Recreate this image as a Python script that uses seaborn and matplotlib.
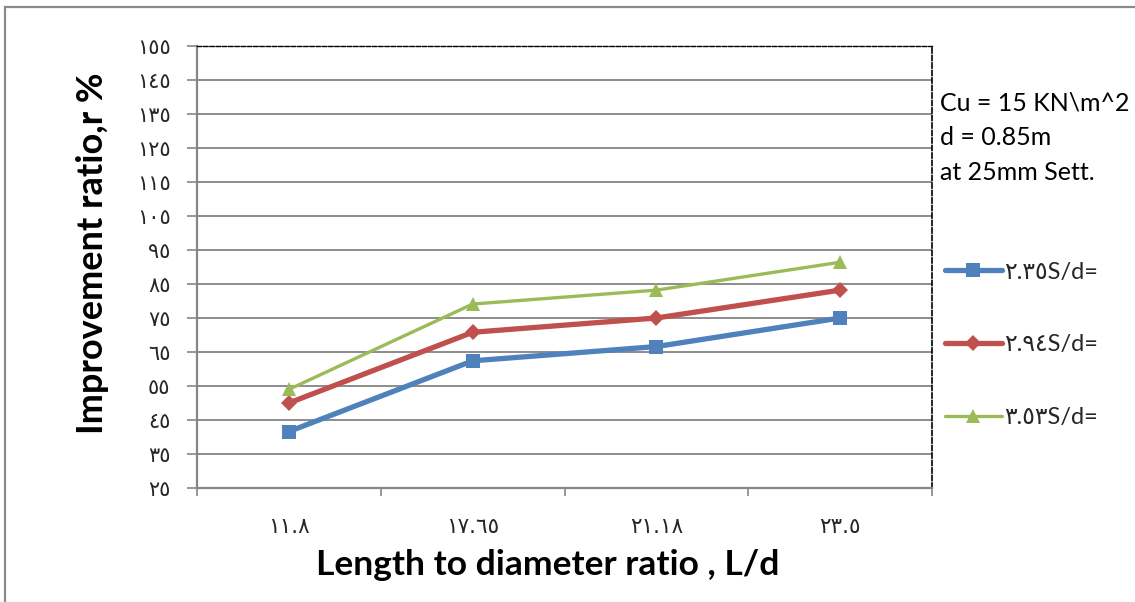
import matplotlib
matplotlib.use("Agg")
import matplotlib.pyplot as plt
import seaborn as sns
import pandas as pd
from matplotlib.patches import Rectangle
from matplotlib.ticker import FixedLocator

# ---- data ----
categories = ["١١.٨", "١٧.٦٥", "٢١.١٨", "٢٣.٥"]
s_235 = [41.6, 62.4, 66.6, 75.0]
s_294 = [50.0, 70.8, 75.0, 83.2]
s_353 = [54.0, 79.1, 83.2, 91.4]
series_labels = ["٢.٣٥S/d=", "٢.٩٤S/d=", "٣.٥٣S/d="]
y_ticks = [25, 35, 45, 55, 65, 75, 85, 95, 105, 115, 125, 135, 145, 155]
y_tick_labels = ["٢٥", "٣٥", "٤٥", "٥٥", "٦٥", "٧٥", "٨٥", "٩٥",
                 "١٠٥", "١١٥", "١٢٥", "١٣٥", "١٤٥", "١٥٥"]
note_lines = ["Cu = 15 KN\\m^2", "d = 0.85m", "at 25mm Sett."]

sns.set_theme(style="white")
plt.rcParams['font.family'] = ['Lato', 'DejaVu Sans']

colors = ["#4F81BD", "#C0504D", "#9BBB59"]
markers = ["s", "D", "^"]
msizes = [9.5, 8.5, 10.5]
lws = [3.8, 3.8, 2.4]

fig = plt.figure(figsize=(11.35, 6.02), dpi=100)
ax = fig.add_axes([197/1135, 1-488/602, 735/1135, 442/602])

all_series = [s_235, s_294, s_353]
for vals, lab, c, m, ms, lw in zip(all_series, series_labels, colors, markers, msizes, lws):
    df = pd.DataFrame({"L/d": categories, "r": vals})
    sns.lineplot(data=df, x="L/d", y="r", ax=ax, color=c, marker=m,
                 markersize=ms, markeredgewidth=0, linewidth=lw,
                 sort=False, label=lab, zorder=3)

ax.set_xlim(-0.5, 3.5)
ax.set_ylim(25, 155)
ax.set_yticks(y_ticks)
ax.set_yticklabels(y_tick_labels, family=['DejaVu Sans'], fontsize=15)
ax.tick_params(axis='y', length=7, width=1.2, color="#868686", pad=12, left=True)
ax.tick_params(axis='x', which='major', length=0, pad=21, labelsize=15.5)
for t in ax.get_xticklabels():
    t.set_family(['DejaVu Sans'])
ax.xaxis.set_minor_locator(FixedLocator([-0.5, 0.5, 1.5, 2.5, 3.5]))
ax.tick_params(axis='x', which='minor', length=5.5, width=1.2, color="#868686", bottom=True)

ax.yaxis.grid(True, color="#8c8c8c", linewidth=1.4)
ax.set_axisbelow(True)

ax.spines['top'].set_color('black')
ax.spines['top'].set_linestyle((0, (3, 1.5)))
ax.spines['top'].set_linewidth(1.0)
ax.spines['right'].set_color('black')
ax.spines['right'].set_linestyle((0, (3, 1.5)))
ax.spines['right'].set_linewidth(1.2)
ax.spines['left'].set_color('#868686')
ax.spines['left'].set_linewidth(1.6)
ax.spines['bottom'].set_color('#868686')
ax.spines['bottom'].set_linewidth(1.6)

ax.set_xlabel("Length to diameter ratio , L/d", fontsize=25.5, fontweight='bold', color='black')
ax.set_ylabel("Improvement ratio,r %", fontsize=26, fontweight='bold', color='black')
ax.xaxis.set_label_coords((548-197)/735, -(549-488)/442)
ax.yaxis.set_label_coords(-(197-109)/735, (488-253)/442)

# side note
for i, line in enumerate(note_lines):
    fig.text(940/1135, 1-(103+34.5*i)/602, line, fontsize=18, va='center', ha='left', color='black')

# legend
handles, labels = ax.get_legend_handles_labels()
leg = ax.legend(handles, labels, loc='center left',
                bbox_to_anchor=(945/1135, 1-345/602), bbox_transform=fig.transFigure,
                frameon=False, fontsize=17, handlelength=2.4, handletextpad=0.1,
                labelspacing=2.2, borderaxespad=0, borderpad=0)

# outer chart border
fig.patches.append(Rectangle((5/1135, -0.05), 1.2, 1.05-7/602, transform=fig.transFigure,
                             fill=False, edgecolor='#8a8a8a', linewidth=1.6, zorder=0))

fig.savefig("out.png", dpi=100, facecolor='white')
